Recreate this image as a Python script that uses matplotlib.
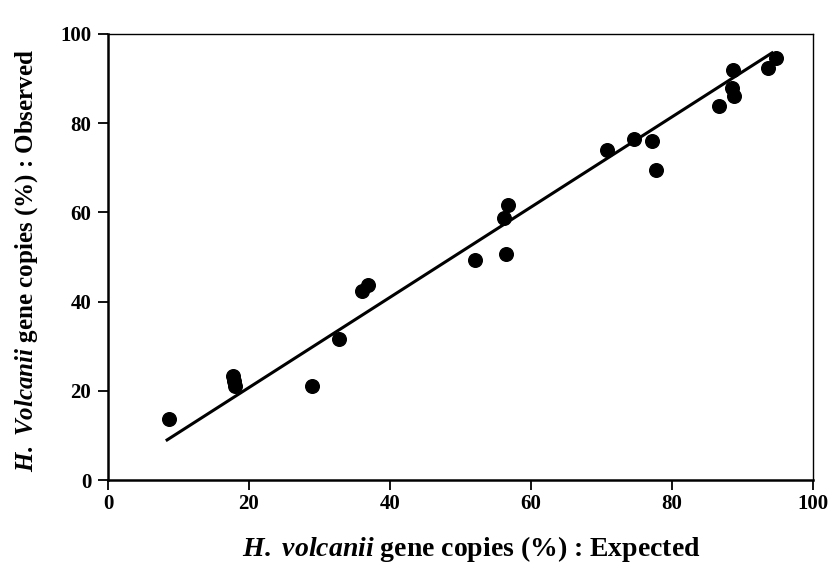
import matplotlib
matplotlib.use("Agg")
import matplotlib.pyplot as plt

# Expected vs observed H. volcanii gene copies (%)
expected = [8.7, 17.7, 17.9, 18.0, 29.0, 32.8, 36.1, 36.9, 52.1, 56.2, 56.4, 56.7,
            70.8, 74.6, 77.2, 77.7, 86.7, 88.6, 88.7, 88.8, 93.7, 94.8]
observed = [13.6, 23.2, 22.2, 21.1, 21.1, 31.7, 42.3, 43.6, 49.4, 58.8, 50.6, 61.6,
            74.0, 76.4, 75.9, 69.4, 83.9, 87.9, 91.8, 86.1, 92.3, 94.5]

# regression line end points
fit_x = [8.2, 94.4]
fit_y = [8.8, 95.9]

ticks = [0, 20, 40, 60, 80, 100]

plt.rcParams["font.family"] = ["Liberation Serif", "DejaVu Serif"]
plt.rcParams["font.weight"] = "bold"
plt.rcParams["mathtext.fontset"] = "custom"
plt.rcParams["mathtext.it"] = "Liberation Serif:italic:bold"
plt.rcParams["mathtext.rm"] = "Liberation Serif:bold"

fig = plt.figure(figsize=(8.33, 5.63), dpi=100)
ax = fig.add_axes([0.1297, 0.1474, 0.846, 0.7926])

ax.plot(fit_x, fit_y, color="black", lw=2.2, solid_capstyle="butt")
ax.plot(expected, observed, "o", color="black", ms=9.8)

ax.set_xlim(0, 100)
ax.set_ylim(0, 100)
ax.set_xticks(ticks)
ax.set_yticks(ticks)
ax.tick_params(direction="out", length=7, width=1.3, labelsize=15)
ax.xaxis.set_tick_params(pad=3)
ax.yaxis.set_tick_params(pad=5)
for lab in ax.get_xticklabels() + ax.get_yticklabels():
    lab.set_fontweight("bold")

ax.spines["left"].set_linewidth(1.8)
ax.spines["bottom"].set_linewidth(1.8)
ax.spines["top"].set_linewidth(1.0)
ax.spines["right"].set_linewidth(1.0)

ax.set_xlabel(r"$\mathit{H.}$ $\mathit{volcanii}$ gene copies (%) : Expected",
              fontsize=20, fontweight="bold")
ax.xaxis.set_label_coords(0.515, -0.122)
ax.set_ylabel(r"$\mathit{H.}$ $\mathit{Volcanii}$ gene copies (%) : Observed",
              fontsize=18, fontweight="bold")
ax.yaxis.set_label_coords(-0.097, 0.493)

fig.savefig("out.png", dpi=100)
